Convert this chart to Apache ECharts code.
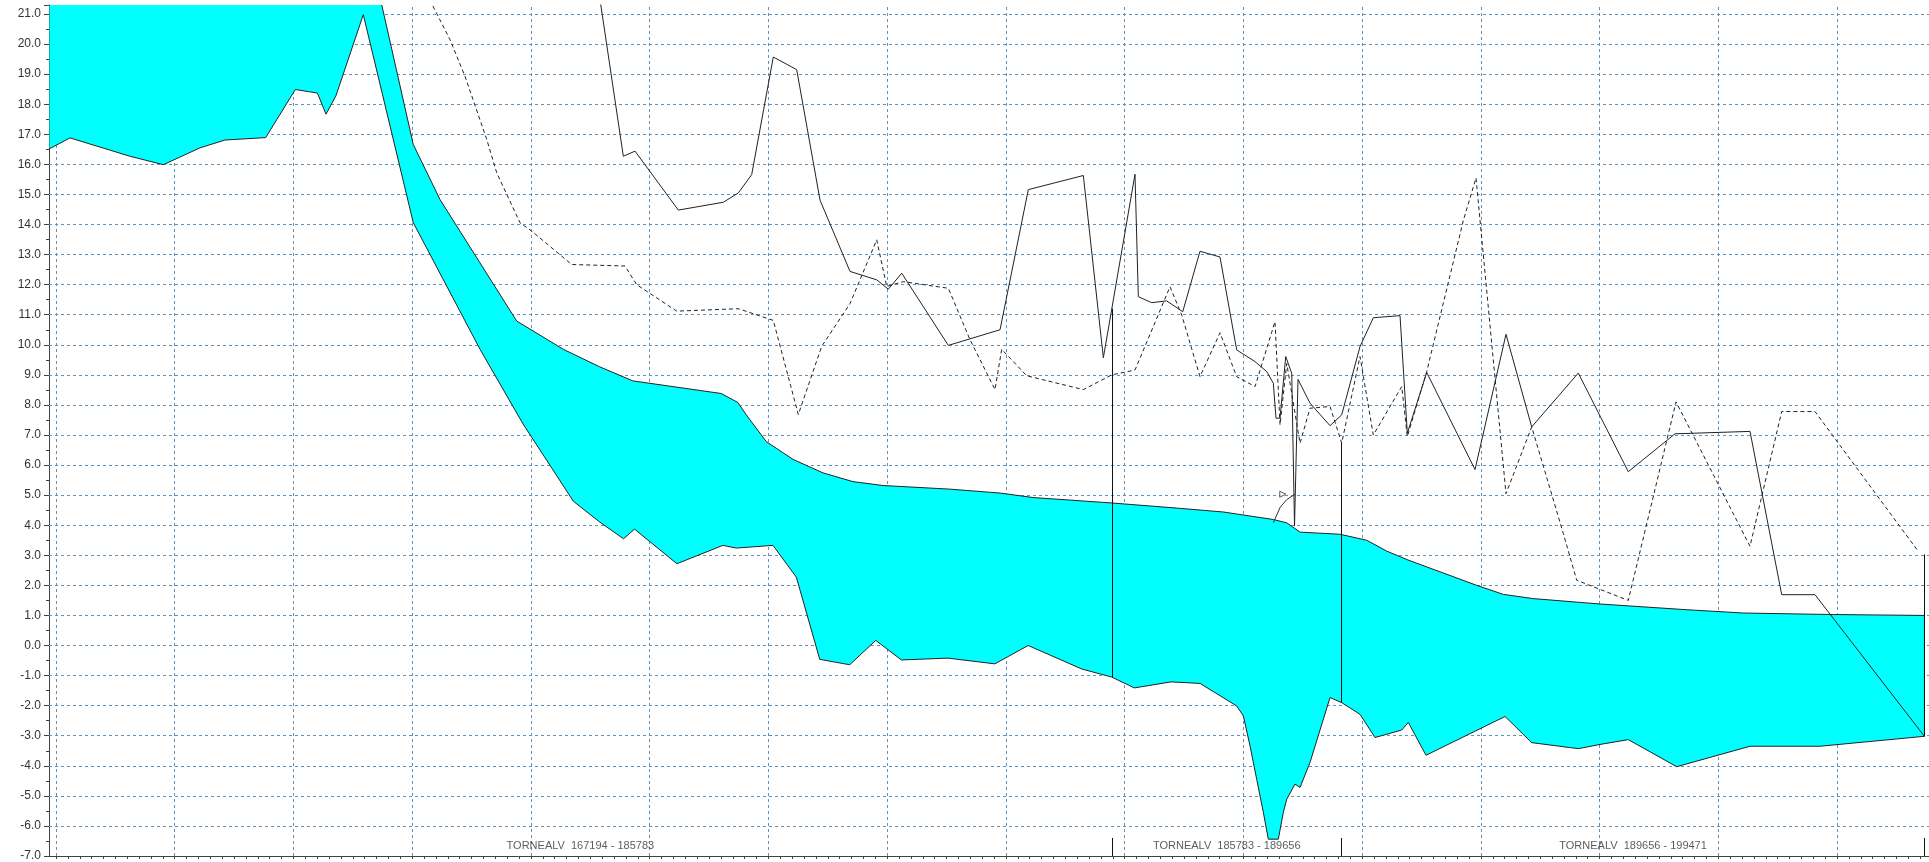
<!DOCTYPE html>
<html>
<head>
<meta charset="utf-8">
<title>TORNEALV</title>
<script src="https://cdn.jsdelivr.net/npm/echarts@6.0.0/dist/echarts.min.js"></script>
<style>
  html, body { margin: 0; padding: 0; background: #fff; }
  #area { width: 1929px; height: 862px; }
</style>
</head>
<body>
<div id="area"></div>
<script>
// chainage in km, levels in m
const bedKm = [167.88, 168.236, 169.246, 169.807, 170.426, 170.847, 171.532, 172.031, 172.403, 172.548, 172.715, 173.176, 174.018, 175.142, 175.866, 176.713, 177.155, 177.559, 177.744, 178.458, 179.233, 179.459, 180.077, 180.470, 180.864, 181.369, 181.807, 182.240, 183.026, 183.813, 184.376, 185.275, 185.783, 186.163, 186.781, 187.269, 187.887, 187.999, 188.112, 188.224, 188.336, 188.420, 188.588, 188.673, 188.730, 188.869, 188.954, 189.122, 189.459, 189.656, 189.964, 190.217, 190.667, 190.778, 191.076, 192.407, 192.856, 193.641, 194.007, 194.483, 195.299, 196.533, 197.712, 199.471];
const bedLevel = [16.51, 16.88, 16.27, 15.99, 16.55, 16.81, 16.89, 18.49, 18.37, 17.67, 18.28, 20.98, 14.06, 9.85, 7.37, 4.80, 4.11, 3.55, 3.87, 2.72, 3.33, 3.24, 3.33, 2.27, -0.46, -0.64, 0.17, -0.48, -0.42, -0.61, 0.0, -0.78, -1.05, -1.41, -1.21, -1.26, -2.01, -2.34, -3.34, -4.45, -5.55, -6.44, -6.44, -5.55, -5.11, -4.61, -4.72, -3.89, -1.73, -1.9, -2.29, -3.06, -2.81, -2.56, -3.65, -2.36, -3.23, -3.43, -3.29, -3.13, -4.03, -3.35, -3.35, -3.02];

const wsKm = [167.88, 173.407, 174.018, 174.468, 175.760, 176.545, 177.155, 177.715, 179.205, 179.486, 179.627, 179.964, 180.414, 180.919, 181.424, 181.930, 183.055, 183.901, 184.460, 185.783, 186.877, 187.661, 188.504, 188.730, 188.954, 189.627, 190.077, 190.414, 190.751, 191.930, 192.378, 192.883, 194.007, 195.467, 196.421, 197.936, 199.471];
const wsLevel = [22.0, 22.0, 16.66, 14.83, 10.79, 9.85, 9.27, 8.80, 8.38, 8.08, 7.67, 6.78, 6.19, 5.74, 5.45, 5.32, 5.20, 5.07, 4.92, 4.74, 4.57, 4.44, 4.19, 4.08, 3.77, 3.70, 3.50, 3.14, 2.86, 2.00, 1.70, 1.56, 1.38, 1.19, 1.08, 1.03, 1.00];

// solid bank line
const leftKm = [177.086, 177.556, 177.753, 178.482, 179.240, 179.493, 179.718, 180.082, 180.476, 180.869, 181.374, 181.824, 182.019, 182.245, 183.030, 183.901, 184.377, 185.304, 185.641, 186.174, 186.230, 186.456, 186.708, 186.978, 187.269, 187.606, 187.887, 188.196, 188.393, 188.504, 188.549, 188.617, 188.713, 188.814, 188.861, 188.920, 189.122, 189.459, 189.656, 189.964, 190.188, 190.638, 190.761, 191.088, 191.901, 192.423, 192.856, 193.641, 194.483, 195.270, 196.533, 197.067, 197.628, 199.471];
const leftLevel = [22.5, 16.27, 16.44, 14.48, 14.74, 15.05, 15.66, 19.57, 19.15, 14.81, 12.44, 12.16, 11.85, 12.38, 9.98, 10.5, 15.16, 15.63, 9.57, 15.67, 11.6, 11.4, 11.46, 11.1, 13.11, 12.92, 9.83, 9.44, 9.11, 8.72, 7.56, 7.56, 9.61, 9.05, 3.97, 8.85, 8.06, 7.31, 7.67, 9.94, 10.9, 10.97, 7.06, 9.08, 5.85, 10.35, 7.27, 9.06, 5.78, 7.04, 7.12, 1.69, 1.69, -3.02];

// dashed bank line
const rightKm = [174.081, 174.636, 174.889, 175.255, 175.423, 175.815, 176.013, 176.686, 177.584, 177.781, 178.455, 179.493, 180.082, 180.503, 180.897, 181.374, 181.824, 181.992, 182.272, 183.030, 183.395, 183.816, 183.929, 184.350, 185.304, 185.783, 186.174, 186.764, 186.961, 187.269, 187.606, 187.887, 188.196, 188.532, 188.617, 188.730, 188.954, 189.122, 189.459, 189.656, 189.964, 190.188, 190.667, 190.761, 191.088, 191.704, 191.918, 192.423, 192.856, 193.389, 193.614, 194.483, 195.287, 196.533, 197.067, 197.628, 199.368];
const rightLevel = [22.3, 20.15, 18.93, 16.83, 15.72, 14.06, 13.78, 12.67, 12.62, 12.0, 11.12, 11.2, 10.81, 7.68, 9.95, 11.37, 13.49, 11.94, 12.1, 11.88, 10.17, 8.51, 9.85, 8.97, 8.51, 9.0, 9.16, 11.93, 10.99, 8.94, 10.40, 8.94, 8.61, 10.77, 7.34, 9.38, 6.73, 7.89, 7.95, 6.73, 9.61, 7.0, 8.61, 6.95, 9.11, 14.13, 15.55, 5.05, 7.27, 3.72, 2.17, 1.5, 8.1, 3.3, 7.78, 7.78, 3.13];

// small pointer near 188.6
const noteKm = [188.504, 188.62, 188.73, 188.869];
const noteLevel = [4.08, 4.6, 4.85, 5.03];
const noteArrow = [188.663, 5.03];

// reach ends: vertical lines
const cutKm = [185.783, 189.656, 199.471];
const cutTop = [11.2, 6.73, 3.03];
const cutBottom = [-1.05, -1.9, -3.02];

const reachNames = ['TORNEALV  167194 - 185783', 'TORNEALV  185783 - 189656', 'TORNEALV  189656 - 199471'];
const reachStart = [167.194, 185.783, 189.656];
const reachEnd = [185.783, 189.656, 199.471];
const reachLabelLevel = -6.67;
const reachTickTop = -6.4;

const gridKm = [168, 170, 172, 174, 176, 178, 180, 182, 184, 186, 188, 190, 192, 194, 196, 198];
const gridLevel = [-6, -5, -4, -3, -2, -1, 0, 1, 2, 3, 4, 5, 6, 7, 8, 9, 10, 11, 12, 13, 14, 15, 16, 17, 18, 19, 20, 21];
const xMin = 167.882;
const xMax = 199.548;
const yMin = -7;
const yMax = 21.3;

const gridColor = '#5f91ba';
const inkColor = '#222';

function pairs(xs, ys) {
  return xs.map(function (x, i) { return [x, ys[i]]; });
}

let xTicks = [];
for (let v = 168; v <= xMax; v += 0.2) xTicks.push(Math.round(v * 1000) / 1000);

let option = {
  backgroundColor: '#fff',
  animation: false,
  grid: { left: 49, right: 0, top: 5, bottom: 4 },
  xAxis: {
    type: 'value',
    min: xMin,
    max: xMax,
    axisLine: { show: true, onZero: false, lineStyle: { color: '#404040' } },
    axisTick: { show: true, length: 3, customValues: xTicks, lineStyle: { color: '#404040' } },
    axisLabel: { show: false },
    splitLine: { show: false }
  },
  yAxis: {
    type: 'value',
    min: yMin,
    max: yMax,
    interval: 1,
    axisLine: { show: true, onZero: false, lineStyle: { color: '#404040' } },
    axisTick: { show: true, length: 5, lineStyle: { color: '#404040' } },
    minorTick: { show: true, splitNumber: 2, length: 3, lineStyle: { color: '#404040' } },
    axisLabel: {
      margin: 8,
      color: '#333',
      fontSize: 12,
      fontFamily: 'Liberation Sans, Arial, sans-serif',
      formatter: function (v) {
        return Math.abs(v - Math.round(v)) < 1e-6 ? v.toFixed(1) : '';
      }
    },
    splitLine: { show: false }
  },
  series: [
    {
      // dashed grid
      name: 'grid',
      type: 'line',
      data: [[xMin, yMin]],
      symbol: 'none',
      lineStyle: { opacity: 0 },
      silent: true,
      z: 1,
      markLine: {
        silent: true,
        z: 1,
        symbol: ['none', 'none'],
        label: { show: false },
        lineStyle: { color: gridColor, type: [3, 3], width: 1 },
        data: gridKm.map(function (k) { return { xAxis: k }; })
          .concat(gridLevel.map(function (l) { return { yAxis: l }; }))
      }
    },
    {
      name: 'water',
      type: 'custom',
      clip: true,
      z: 2,
      data: [[bedKm[0], bedLevel[0]]],
      renderItem: function (params, api) {
        let pts = [];
        for (let i = 0; i < wsKm.length; i++) pts.push(api.coord([wsKm[i], wsLevel[i]]));
        for (let i = bedKm.length - 1; i >= 0; i--) pts.push(api.coord([bedKm[i], bedLevel[i]]));
        return {
          type: 'polygon',
          shape: { points: pts },
          style: { fill: '#00ffff', stroke: inkColor, lineWidth: 1 }
        };
      }
    },
    {
      name: 'bank solid',
      type: 'line',
      data: pairs(leftKm, leftLevel),
      symbol: 'none',
      clip: true,
      z: 3,
      lineStyle: { color: inkColor, width: 1 },
      markLine: {
        silent: true,
        z: 4,
        symbol: ['none', 'none'],
        label: { show: false },
        lineStyle: { color: '#111', type: 'solid', width: 1 },
        data: cutKm.map(function (k, i) {
          return [{ coord: [k, cutTop[i]] }, { coord: [k, cutBottom[i]] }];
        }).concat(reachEnd.map(function (k) {
          return [{ coord: [k, reachTickTop] }, { coord: [k, yMin] }];
        }))
      }
    },
    {
      name: 'bank dashed',
      type: 'line',
      data: pairs(rightKm, rightLevel),
      symbol: 'none',
      clip: true,
      z: 3,
      lineStyle: { color: inkColor, width: 1, type: [4, 3] }
    },
    {
      name: 'note',
      type: 'line',
      data: pairs(noteKm, noteLevel),
      symbol: 'none',
      z: 3,
      lineStyle: { color: '#333', width: 1 }
    },
    {
      name: 'note arrow',
      type: 'scatter',
      data: [noteArrow],
      symbol: 'triangle',
      symbolRotate: -90,
      symbolSize: 6,
      z: 3,
      itemStyle: { color: '#fff', borderColor: '#333', borderWidth: 1 }
    },
    {
      name: 'reaches',
      type: 'scatter',
      symbolSize: 1,
      z: 5,
      itemStyle: { color: 'rgba(0,0,0,0)' },
      data: reachNames.map(function (n, i) {
        let a = Math.max(reachStart[i], xMin);
        return { name: n, value: [(a + reachEnd[i]) / 2, reachLabelLevel] };
      }),
      label: {
        show: true,
        position: 'inside',
        formatter: '{b}',
        color: '#333',
        fontSize: 11,
        fontFamily: 'Liberation Sans, Arial, sans-serif'
      }
    }
  ]
};

let myChart = echarts.init(document.getElementById('area'));
myChart.setOption(option);
window.addEventListener('resize', function () {
  myChart.resize();
}, false);
</script>
</body>
</html>
